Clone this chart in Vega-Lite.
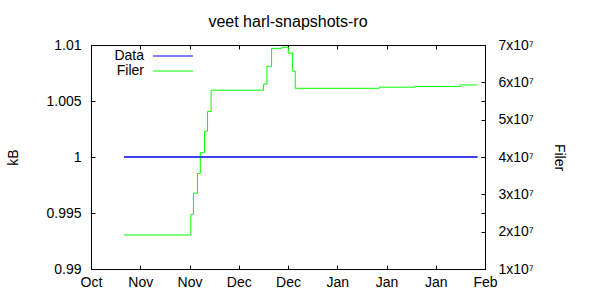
{
  "$schema": "https://vega.github.io/schema/vega-lite/v6.json",
  "autosize": "none",
  "width": 394,
  "height": 224,
  "padding": {"left": 91, "top": 45, "right": 115, "bottom": 31},
  "background": "white",
  "title": {"text": "veet harl-snapshots-ro", "fontSize": 16, "font": "Liberation Sans", "fontWeight": "normal", "color": "black", "baseline": "alphabetic", "offset": -5},
  "datasets": {
    "data": [
      {"series": "Data", "date": "2012-10-28T01:00", "kB": 1},
      {"series": "Data", "date": "2013-02-12T17:00", "kB": 1}
    ],
    "filer": [
      {"series": "Filer", "date": "2012-10-28T01:00", "filer": 19100000},
      {"series": "Filer", "date": "2012-11-17T10:00", "filer": 24650000},
      {"series": "Filer", "date": "2012-11-18T05:00", "filer": 30300000},
      {"series": "Filer", "date": "2012-11-19T10:00", "filer": 35600000},
      {"series": "Filer", "date": "2012-11-20T07:00", "filer": 41150000},
      {"series": "Filer", "date": "2012-11-21T14:00", "filer": 46900000},
      {"series": "Filer", "date": "2012-11-22T12:00", "filer": 52200000},
      {"series": "Filer", "date": "2012-11-23T14:00", "filer": 57900000},
      {"series": "Filer", "date": "2012-12-09T12:00", "filer": 59500000},
      {"series": "Filer", "date": "2012-12-10T14:00", "filer": 64300000},
      {"series": "Filer", "date": "2012-12-12T00:00", "filer": 69100000},
      {"series": "Filer", "date": "2012-12-15T02:00", "filer": 69400000},
      {"series": "Filer", "date": "2012-12-17T02:00", "filer": 67800000},
      {"series": "Filer", "date": "2012-12-18T10:00", "filer": 63000000},
      {"series": "Filer", "date": "2012-12-19T05:00", "filer": 58400000},
      {"series": "Filer", "date": "2013-01-13T19:00", "filer": 58700000},
      {"series": "Filer", "date": "2013-01-24T19:00", "filer": 58900000},
      {"series": "Filer", "date": "2013-02-07T14:00", "filer": 59300000},
      {"series": "Filer", "date": "2013-02-12T17:00", "filer": 59300000}
    ]
  },
  "layer": [
    {
      "data": {"name": "data"},
      "mark": {"type": "line", "strokeWidth": 1},
      "encoding": {
        "x": {
          "field": "date", "type": "temporal",
          "scale": {"domain": [{"year": 2012, "month": 10, "date": 18}, {"year": 2013, "month": 2, "date": 15}]},
          "axis": {
            "orient": "bottom", "title": null, "format": "%b", "labelFlush": false, "labelPadding": 10,
            "values": [
              {"year": 2012, "month": 10, "date": 18},
              {"year": 2012, "month": 11, "date": 2},
              {"year": 2012, "month": 11, "date": 17},
              {"year": 2012, "month": 12, "date": 2},
              {"year": 2012, "month": 12, "date": 17},
              {"year": 2013, "month": 1, "date": 1},
              {"year": 2013, "month": 1, "date": 16},
              {"year": 2013, "month": 1, "date": 31},
              {"year": 2013, "month": 2, "date": 15}
            ]
          }
        },
        "y": {
          "field": "kB", "type": "quantitative",
          "scale": {"domain": [0.99, 1.01], "zero": false, "nice": false},
          "axis": {"orient": "left", "title": "kB", "values": [0.99, 0.995, 1, 1.005, 1.01], "format": "~g", "labelPadding": 14, "titlePadding": 25}
        },
        "color": {
          "field": "series", "type": "nominal",
          "scale": {"domain": ["Data", "Filer"], "range": ["#0000ee", "#00ff00"]},
          "legend": {
            "orient": "none", "legendX": 75, "legendY": 4, "title": null,
            "symbolType": "M-4,0H4", "symbolSize": 100, "symbolStrokeWidth": 1,
            "labelFontSize": 14, "labelFont": "Liberation Sans", "labelColor": "black",
            "labelAlign": "right", "labelOffset": -36, "rowPadding": 1, "padding": 0
          }
        }
      }
    },
    {
      "data": {"name": "filer"},
      "mark": {"type": "line", "strokeWidth": 1, "interpolate": "step-after"},
      "encoding": {
        "x": {
          "field": "date", "type": "temporal",
          "axis": {
            "orient": "top", "title": null, "labels": false,
            "values": [
              {"year": 2012, "month": 10, "date": 18},
              {"year": 2012, "month": 11, "date": 2},
              {"year": 2012, "month": 11, "date": 17},
              {"year": 2012, "month": 12, "date": 2},
              {"year": 2012, "month": 12, "date": 17},
              {"year": 2013, "month": 1, "date": 1},
              {"year": 2013, "month": 1, "date": 16},
              {"year": 2013, "month": 1, "date": 31},
              {"year": 2013, "month": 2, "date": 15}
            ]
          }
        },
        "y": {
          "field": "filer", "type": "quantitative",
          "scale": {"domain": [10000000, 70000000], "zero": false, "nice": false},
          "axis": {"orient": "right", "title": "Filer", "values": [10000000, 20000000, 30000000, 40000000, 50000000, 60000000, 70000000], "labelExpr": "format(datum.value / 10000000, 'd') + 'x10⁷'", "labelPadding": 17, "titlePadding": 18}
        },
        "color": {"field": "series", "type": "nominal"}
      }
    },
    {
      "data": {"name": "data"},
      "mark": {"type": "line", "strokeWidth": 1, "color": "#0000ee"},
      "encoding": {
        "x": {"field": "date", "type": "temporal", "axis": null},
        "y": {
          "field": "kB", "type": "quantitative",
          "scale": {"domain": [0.99, 1.01], "zero": false, "nice": false},
          "axis": {"orient": "right", "title": null, "labels": false, "values": [0.99, 0.995, 1, 1.005, 1.01]}
        }
      }
    }
  ],
  "resolve": {
    "scale": {"y": "independent"},
    "axis": {"y": "independent", "x": "independent"}
  },
  "config": {
    "font": "Liberation Sans",
    "view": {"stroke": "black", "strokeWidth": 1},
    "axis": {
      "grid": false, "domain": false, "tickColor": "black", "tickSize": -4, "tickWidth": 1,
      "labelColor": "black", "labelFontSize": 14, "labelFont": "Liberation Sans",
      "titleColor": "black", "titleFontSize": 14, "titleFontWeight": "normal", "titleFont": "Liberation Sans"
    }
  }
}
